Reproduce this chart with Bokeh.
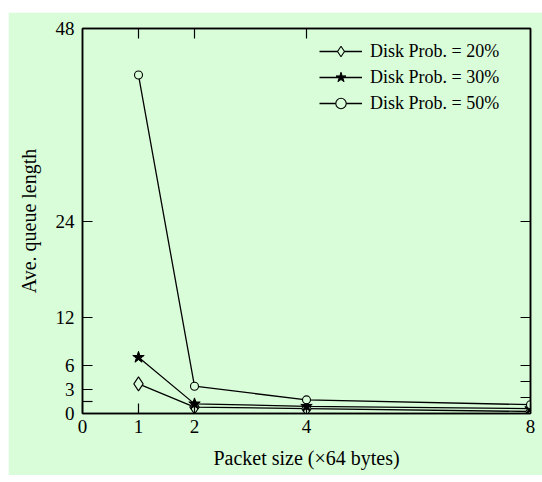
import numpy as np
from bokeh.plotting import figure
from bokeh.models import FixedTicker, LinearAxis, Legend, LegendItem, Range1d
from bokeh.embed import file_html
from bokeh.resources import INLINE

# ---- data ----
packet_size = [1, 2, 4, 8]
prob20 = [3.7, 0.8, 0.6, 0.25]
prob30 = [7.0, 1.2, 0.9, 0.6]
prob50 = [42.2, 3.4, 1.7, 1.1]
labels = ["Disk Prob. = 20%", "Disk Prob. = 30%", "Disk Prob. = 50%"]
x_ticks = [0, 1, 2, 4, 8]
y_ticks = [0, 3, 6, 12, 24, 48]
y_minor = [1.5]
right_ticks = [2, 4, 6, 12, 24]
top_ticks = [1, 2, 4]

GREEN = "#d9fdd9"
FONT = "'Liberation Serif', 'Times New Roman', serif"

p = figure(width=534, height=463, x_range=Range1d(0, 8), y_range=Range1d(0, 48),
           output_backend="svg", toolbar_location=None,
           min_border_left=74, min_border_right=12, min_border_top=16, min_border_bottom=62,
           background_fill_color=GREEN, border_fill_color=GREEN,
           outline_line_color="black", outline_line_width=1.5,
           margin=(12, 0, 7, 8))
p.xgrid.visible = False
p.ygrid.visible = False

def style_axis(ax, font_size="19px"):
    ax.axis_line_color = "black"
    ax.axis_line_width = 1.5
    ax.major_tick_line_color = "black"
    ax.major_tick_line_width = 1.2
    ax.minor_tick_line_color = "black"
    ax.minor_tick_line_width = 1.2
    ax.major_tick_in = 10
    ax.major_tick_out = 0
    ax.minor_tick_in = 10
    ax.minor_tick_out = 0
    ax.major_label_text_font = FONT
    ax.major_label_text_font_size = font_size
    ax.major_label_text_color = "black"
    ax.axis_label_text_font = FONT
    ax.axis_label_text_font_size = "20px"
    ax.axis_label_text_font_style = "normal"
    ax.axis_label_text_color = "black"

xa = p.xaxis[0]
xa.ticker = FixedTicker(ticks=x_ticks, minor_ticks=[])
style_axis(xa)
xa.major_label_standoff = 6
xa.axis_label = "Packet size (×64 bytes)"
xa.axis_label_standoff = 11

ya = p.yaxis[0]
ya.ticker = FixedTicker(ticks=y_ticks, minor_ticks=y_minor)
style_axis(ya)
ya.major_label_standoff = 8
ya.axis_label = "Ave. queue length"
ya.axis_label_standoff = 13

top = LinearAxis(ticker=FixedTicker(ticks=top_ticks, minor_ticks=[]))
style_axis(top, "0px")
top.major_label_text_color = None
top.major_label_standoff = 0
p.add_layout(top, "above")

right = LinearAxis(ticker=FixedTicker(ticks=right_ticks, minor_ticks=[]))
style_axis(right, "0px")
right.major_label_text_color = None
right.major_label_standoff = 0
p.add_layout(right, "right")

items = []
series = [prob20, prob30, prob50]
for i, ys in enumerate(series):
    ln = p.line(packet_size, ys, line_color="black", line_width=1.3)
    if i == 0:
        sc = p.scatter(packet_size, ys, marker="diamond", size=14,
                       fill_color=GREEN, line_color="black", line_width=1.1)
    elif i == 1:
        sc = p.scatter(packet_size, ys, marker="star", size=12,
                       fill_color="black", line_color="black", line_width=1)
    else:
        sc = p.scatter(packet_size, ys, marker="circle", size=8,
                       fill_color=GREEN, line_color="black", line_width=1.1)
    items.append(LegendItem(label=labels[i], renderers=[ln, sc]))

legend = Legend(items=items, location=(237, 297), border_line_color=None,
                background_fill_alpha=0, label_text_font=FONT, label_text_font_size="18px",
                label_text_color="black", glyph_width=43, glyph_height=26, label_height=20,
                spacing=-2, padding=0, margin=0, label_standoff=8)
p.add_layout(legend)

open("out.html", "w").write(file_html(p, INLINE))
